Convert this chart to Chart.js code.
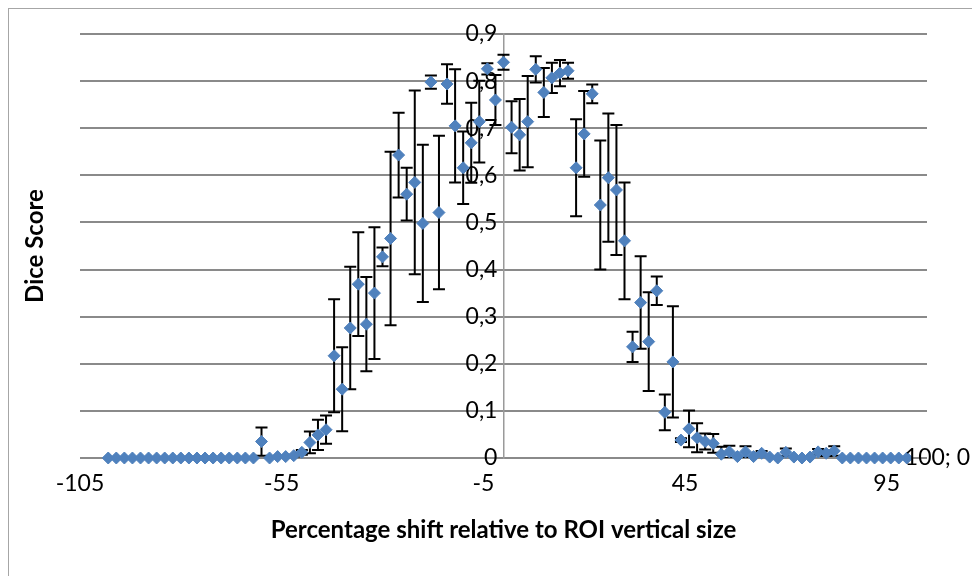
<!DOCTYPE html>
<html>
<head>
<meta charset="utf-8">
<script src="https://cdn.jsdelivr.net/npm/chart.js@4"></script>
<style>
html, body { margin: 0; padding: 0; background: #fff; }
</style>
</head>
<body>
<canvas id="diceChart" width="972" height="576"></canvas>
<script>
let canvas = document.getElementById('diceChart');

// shift in % of ROI vertical size
let shifts = [-98, -96, -94, -92, -90, -88, -86, -84, -82, -80, -78, -76, -74, -72, -70, -68, -66, -64, -62,
              -60, -58, -56, -54, -52, -50, -48, -46, -44, -42, -40, -38, -36, -34, -32, -30, -28, -26, -24,
              -22, -20, -18, -16, -14, -12, -10, -8, -6, -4, -2, 0, 2, 4, 6, 8, 10, 12, 14, 16, 18, 20, 22,
              24, 26, 28, 30, 32, 34, 36, 38, 40, 42, 44, 46, 48, 50, 52, 54, 56, 58, 60, 62, 64, 66, 68,
              70, 72, 74, 76, 78, 80, 82, 84, 86, 88, 90, 92, 94, 96, 98, 100];
let diceScore = [0, 0, 0, 0, 0, 0, 0, 0, 0, 0, 0, 0, 0, 0, 0, 0, 0, 0, 0,
                 0.035, 0, 0.003, 0.003, 0.005, 0.012, 0.033, 0.049, 0.06, 0.217, 0.146, 0.276, 0.369, 0.284, 0.35, 0.427, 0.466, 0.643, 0.56,
                 0.585, 0.498, 0.798, 0.521, 0.794, 0.705, 0.616, 0.669, 0.714, 0.826, 0.76, 0.84, 0.702, 0.686, 0.714, 0.825, 0.776, 0.807, 0.817, 0.822, 0.616, 0.688, 0.773,
                 0.537, 0.595, 0.569, 0.461, 0.236, 0.33, 0.247, 0.355, 0.097, 0.204, 0.038, 0.062, 0.043, 0.035, 0.031, 0.008, 0.013, 0.003, 0.013, 0.003, 0.01, 0.002, 0,
                 0.012, 0.002, 0, 0.002, 0.013, 0.01, 0.015, 0, 0, 0, 0, 0, 0, 0, 0, 0];
let diceError = [0, 0, 0, 0, 0, 0, 0, 0, 0, 0, 0, 0, 0, 0, 0, 0, 0, 0, 0,
                 0.03, 0, 0, 0, 0.002, 0.005, 0.023, 0.032, 0.03, 0.12, 0.089, 0.13, 0.11, 0.1, 0.14, 0.02, 0.184, 0.09, 0.056,
                 0.195, 0.167, 0.014, 0.163, 0.042, 0.12, 0.077, 0.085, 0.087, 0.012, 0.053, 0.016, 0.055, 0.076, 0.097, 0.028, 0.052, 0.032, 0.028, 0.017, 0.103, 0.091, 0.02,
                 0.137, 0.136, 0.138, 0.124, 0.032, 0.098, 0.105, 0.03, 0.038, 0.118, 0.004, 0.039, 0.031, 0.017, 0.02, 0.016, 0.013, 0, 0.012, 0, 0.005, 0, 0,
                 0.008, 0, 0, 0, 0.006, 0.006, 0.01, 0, 0, 0, 0, 0, 0, 0, 0, 0];

let xTicks = [-105, -55, -5, 45, 95];
let yTicks = [0, 0.1, 0.2, 0.3, 0.4, 0.5, 0.6, 0.7, 0.8, 0.9];

let fontFamily = 'Lato, Carlito, "Open Sans", sans-serif';
let gridColor = '#8a8a8a';

let points = [];
for (let i = 0; i < shifts.length; i++) {
    points[i] = {x: shifts[i], y: diceScore[i]};
}

// white background + frame (right/bottom edges fall outside the picture)
let framePlugin = {
    id: 'frame',
    beforeDraw(chart) {
        let ctx = chart.ctx;
        ctx.save();
        ctx.fillStyle = '#fff';
        ctx.fillRect(0, 0, chart.width, chart.height);
        ctx.strokeStyle = '#a6a6a6';
        ctx.lineWidth = 1;
        ctx.strokeRect(8.5, 8.5, chart.width, chart.height);
        ctx.restore();
    }
};

// black error bars, drawn under the markers
let errorBarPlugin = {
    id: 'errorBars',
    beforeDatasetsDraw(chart) {
        let ctx = chart.ctx;
        let xs = chart.scales.x;
        let ys = chart.scales.y;
        let area = chart.chartArea;
        ctx.save();
        ctx.beginPath();
        ctx.rect(area.left - 10, area.top - 10, area.right - area.left + 20, area.bottom - area.top + 10);
        ctx.clip();
        ctx.strokeStyle = '#000';
        ctx.lineWidth = 2;
        for (let i = 0; i < shifts.length; i++) {
            if (diceError[i] <= 0) continue;
            let px = xs.getPixelForValue(shifts[i]);
            let top = ys.getPixelForValue(diceScore[i] + diceError[i]);
            let bot = ys.getPixelForValue(diceScore[i] - diceError[i]);
            ctx.beginPath();
            ctx.moveTo(px, top);
            ctx.lineTo(px, bot);
            ctx.moveTo(px - 6, top);
            ctx.lineTo(px + 6, top);
            ctx.moveTo(px - 6, bot);
            ctx.lineTo(px + 6, bot);
            ctx.stroke();
        }
        ctx.restore();
    }
};

// "x; y" label on the last point
let lastLabelPlugin = {
    id: 'lastLabel',
    afterDatasetsDraw(chart) {
        let ctx = chart.ctx;
        let meta = chart.getDatasetMeta(0);
        let last = meta.data[meta.data.length - 1];
        let n = shifts.length - 1;
        ctx.save();
        ctx.fillStyle = '#000';
        ctx.font = '23px ' + fontFamily;
        ctx.textAlign = 'left';
        ctx.textBaseline = 'middle';
        ctx.fillText(shifts[n] + '; ' + diceScore[n], last.x - 2, last.y);
        ctx.restore();
    }
};

let chart = new Chart(canvas, {
    type: 'scatter',
    data: {
        datasets: [{
            label: 'Dice Score',
            data: points,
            pointStyle: 'rectRot',
            pointRadius: 6,
            pointHoverRadius: 6,
            backgroundColor: '#4F81BD',
            borderColor: '#4F81BD',
            borderWidth: 1,
            clip: false
        }]
    },
    options: {
        responsive: false,
        animation: false,
        events: [],
        layout: {
            padding: {left: 0, right: 45, top: 34, bottom: 0}
        },
        plugins: {
            legend: {display: false},
            tooltip: {enabled: false}
        },
        scales: {
            x: {
                type: 'linear',
                position: 'bottom',
                min: -105,
                max: 105,
                afterBuildTicks: function (scale) {
                    scale.ticks = xTicks.map(v => ({value: v}));
                },
                afterFit: function (scale) {
                    scale.height = 118;
                },
                grid: {display: false, drawTicks: false},
                border: {display: false},
                ticks: {
                    color: '#000',
                    font: {family: fontFamily, size: 23},
                    padding: 12,
                    maxRotation: 0,
                    autoSkip: false,
                    callback: v => String(v)
                },
                title: {
                    display: true,
                    text: 'Percentage shift relative to ROI vertical size',
                    color: '#000',
                    font: {family: fontFamily, size: 24, weight: 'bold'},
                    padding: {top: 0, bottom: 31}
                }
            },
            y: {
                type: 'linear',
                position: {x: 0},
                min: 0,
                max: 0.9,
                afterBuildTicks: function (scale) {
                    scale.ticks = yTicks.map(v => ({value: v}));
                },
                grid: {color: gridColor, lineWidth: 2, drawTicks: false},
                border: {color: '#9a9a9a', width: 1.5},
                ticks: {display: false}
            },
            // tick labels of the crossing axis, sitting just left of x = 0
            yLabels: {
                type: 'linear',
                axis: 'y',
                position: {x: -1.5},
                min: 0,
                max: 0.9,
                afterBuildTicks: function (scale) {
                    scale.ticks = yTicks.map(v => ({value: v}));
                },
                grid: {display: false, drawTicks: false},
                border: {display: false},
                ticks: {
                    color: '#000',
                    font: {family: fontFamily, size: 23},
                    callback: v => v === 0 ? '0' : v.toFixed(1).replace('.', ',')
                }
            },
            yTitle: {
                type: 'linear',
                axis: 'y',
                position: 'left',
                min: 0,
                max: 0.9,
                afterFit: function (scale) {
                    scale.width = 80;
                },
                grid: {display: false, drawTicks: false},
                border: {display: false},
                ticks: {display: false},
                title: {
                    display: true,
                    text: 'Dice Score',
                    color: '#000',
                    font: {family: fontFamily, size: 24, weight: 'bold'},
                    padding: {top: 21, bottom: 0}
                }
            }
        }
    },
    plugins: [framePlugin, errorBarPlugin, lastLabelPlugin]
});
</script>
</body>
</html>
